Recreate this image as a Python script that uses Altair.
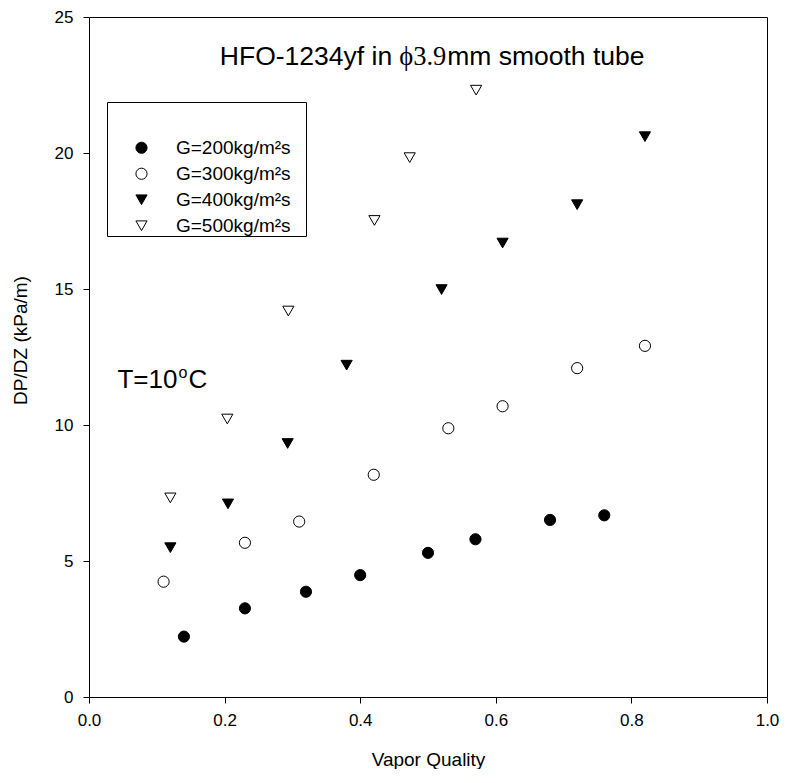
import altair as alt
import pandas as pd

FONT = "Liberation Sans"

series = ["G=200kg/m²s", "G=300kg/m²s", "G=400kg/m²s", "G=500kg/m²s"]
shapes = ["circle", "circle", "triangle-down", "triangle-down"]
fills = ["black", "white", "black", "white"]
strokes = ["black", "black", "black", "black"]

x200 = [0.14, 0.23, 0.32, 0.40, 0.50, 0.57, 0.68, 0.76]
y200 = [2.22, 3.26, 3.87, 4.48, 5.30, 5.80, 6.51, 6.68]
x300 = [0.11, 0.23, 0.31, 0.42, 0.53, 0.61, 0.72, 0.82]
y300 = [4.24, 5.67, 6.45, 8.17, 9.88, 10.69, 12.09, 12.91]
x400 = [0.12, 0.205, 0.293, 0.38, 0.52, 0.61, 0.72, 0.82]
y400 = [5.49, 7.10, 9.32, 12.20, 14.98, 16.69, 18.10, 20.60]
x500 = [0.12, 0.204, 0.294, 0.421, 0.473, 0.571]
y500 = [7.32, 10.22, 14.19, 17.52, 19.83, 22.31]

x_ticks = [0.0, 0.2, 0.4, 0.6, 0.8, 1.0]
y_ticks = [0, 5, 10, 15, 20, 25]

title_left = "HFO-1234yf in"
title_mid = "ϕ3.9"
title_right = "mm smooth tube"
temp_main = "T=10"
temp_sup = "o"
temp_unit = "C"

rows = []
for name, xs, ys in zip(series, [x200, x300, x400, x500], [y200, y300, y400, y500]):
    for a, b in zip(xs, ys):
        rows.append({"x": a, "y": b, "series": name})
df = pd.DataFrame(rows)

# invisible spacer title widens the legend frame like the reference's box
leg = alt.Legend(
    title="_" * 22, orient="none", legendX=18, legendY=85,
    strokeColor="black", fillColor="white", padding=0,
    titleFontSize=16.25, titlePadding=20, titleLimit=400,
    titleOpacity=0, titleColor="white",
    labelFont=FONT, labelFontSize=19, labelColor="black", labelLimit=400,
    labelOffset=25, symbolOffset=25, rowPadding=6,
    symbolStrokeWidth=1, symbolOpacity=1, symbolSize=125,
)

points = alt.Chart(df).mark_point(
    filled=True, strokeWidth=1, opacity=1, size=125
).encode(
    x=alt.X("x:Q", scale=alt.Scale(domain=[0, 1], nice=False, zero=False),
            axis=alt.Axis(values=x_ticks, format=".1f", title="Vapor Quality",
                          tickSize=6, labelPadding=9, labelFontSize=17, titleFontSize=19,
                          titleY=62, titleBaseline="middle", labelFlush=False, labelOverlap=False)),
    y=alt.Y("y:Q", scale=alt.Scale(domain=[0, 25], nice=False, zero=False),
            axis=alt.Axis(values=y_ticks, format="d", title="DP/DZ (kPa/m)",
                          tickSize=6, labelPadding=10, labelFontSize=17, titleFontSize=19,
                          titleX=-69, titleY=323, titleBaseline="middle", labelOverlap=False)),
    shape=alt.Shape("series:N", scale=alt.Scale(domain=series, range=shapes), legend=leg),
    fill=alt.Fill("series:N", scale=alt.Scale(domain=series, range=fills), legend=leg),
    stroke=alt.Stroke("series:N", scale=alt.Scale(domain=series, range=strokes), legend=leg),
)

one = pd.DataFrame({"k": [0]})
anchor_x = 0.4575
anchor_y = 23.23

t1 = alt.Chart(one).mark_text(font=FONT, fontSize=26.5, align="right", baseline="alphabetic",
                              dx=-7, color="black").encode(
    x=alt.datum(anchor_x), y=alt.datum(anchor_y), text=alt.value(title_left))
t2 = alt.Chart(one).mark_text(font="Liberation Serif", fontSize=26.5, align="left",
                              baseline="alphabetic", color="black").encode(
    x=alt.datum(anchor_x), y=alt.datum(anchor_y), text=alt.value(title_mid))
t3 = alt.Chart(one).mark_text(font=FONT, fontSize=26.5, align="left", baseline="alphabetic",
                              dx=48, color="black").encode(
    x=alt.datum(anchor_x), y=alt.datum(anchor_y), text=alt.value(title_right))

tx = 0.042
ty = 11.35
t4 = alt.Chart(one).mark_text(font=FONT, fontSize=26, align="left", baseline="alphabetic",
                              color="black").encode(
    x=alt.datum(tx), y=alt.datum(ty), text=alt.value(temp_main))
t5 = alt.Chart(one).mark_text(font=FONT, fontSize=16, align="left", baseline="alphabetic",
                              dx=61, dy=-10, color="black").encode(
    x=alt.datum(tx), y=alt.datum(ty), text=alt.value(temp_sup))
t6 = alt.Chart(one).mark_text(font=FONT, fontSize=26, align="left", baseline="alphabetic",
                              dx=71, color="black").encode(
    x=alt.datum(tx), y=alt.datum(ty), text=alt.value(temp_unit))

chart = alt.layer(points, t1, t2, t3, t4, t5, t6).properties(
    width=678, height=680,
    autosize=alt.AutoSizeParams(type="none"),
    padding={"left": 81, "top": 9, "right": 12, "bottom": 72},
    background="white",
).configure_view(
    stroke="black", strokeWidth=1
).configure_axis(
    grid=False, domainColor="black", tickColor="black", labelColor="black",
    titleColor="black", labelFont=FONT, titleFont=FONT, titleFontWeight="normal",
    domainWidth=1, tickWidth=1,
)

chart.save("out.html", embed_options={"renderer": "svg", "actions": False})
